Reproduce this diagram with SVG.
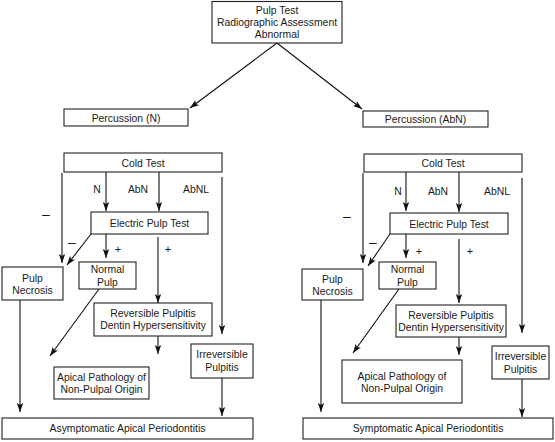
<svg xmlns="http://www.w3.org/2000/svg" width="555" height="442" viewBox="0 0 555 442">
<style>
.box{fill:#fff;stroke:#222;stroke-width:1.1}
.t{font-family:"Liberation Sans",Arial,sans-serif;font-size:10.4px;fill:#1a1a1a;text-anchor:middle}
.s{font-family:"Liberation Sans",Arial,sans-serif;font-size:14px;fill:#1a1a1a;text-anchor:middle}
.p{font-family:"Liberation Sans",Arial,sans-serif;font-size:11px;fill:#1a1a1a;text-anchor:middle}
.c{fill:none;stroke:#111;stroke-width:1.1}
</style>
<defs>
<marker id="ah" markerUnits="userSpaceOnUse" markerWidth="10" markerHeight="8" viewBox="0 0 10 8" refX="9" refY="4" orient="auto">
<path d="M0,0.8 L9,4 L0,7.2 L2,4 Z" fill="#111"/>
</marker>
</defs>
<rect width="555" height="442" fill="#fff"/>
<g id="connectors">
<line class="c" x1="277" y1="43" x2="190" y2="108" marker-end="url(#ah)"/>
<line class="c" x1="277" y1="43" x2="362" y2="109" marker-end="url(#ah)"/>
<line class="c" x1="62" y1="173" x2="62" y2="263" marker-end="url(#ah)"/>
<line class="c" x1="106" y1="172" x2="106" y2="211" marker-end="url(#ah)"/>
<line class="c" x1="159" y1="172" x2="159" y2="211" marker-end="url(#ah)"/>
<line class="c" x1="222" y1="177" x2="222" y2="334" marker-end="url(#ah)"/>
<line class="c" x1="91" y1="234" x2="67" y2="265" marker-end="url(#ah)"/>
<line class="c" x1="106" y1="234" x2="106" y2="258" marker-end="url(#ah)"/>
<line class="c" x1="158" y1="237" x2="158" y2="303" marker-end="url(#ah)"/>
<line class="c" x1="99" y1="289" x2="50" y2="356" marker-end="url(#ah)"/>
<line class="c" x1="158" y1="336" x2="158" y2="354" marker-end="url(#ah)"/>
<line class="c" x1="20" y1="300" x2="20" y2="412" marker-end="url(#ah)"/>
<line class="c" x1="222" y1="378" x2="222" y2="416" marker-end="url(#ah)"/>
<line class="c" x1="363" y1="173" x2="363" y2="263" marker-end="url(#ah)"/>
<line class="c" x1="406" y1="172" x2="406" y2="211" marker-end="url(#ah)"/>
<line class="c" x1="459" y1="172" x2="459" y2="212" marker-end="url(#ah)"/>
<line class="c" x1="522" y1="178" x2="522" y2="333" marker-end="url(#ah)"/>
<line class="c" x1="390" y1="234" x2="368" y2="266" marker-end="url(#ah)"/>
<line class="c" x1="406" y1="234" x2="406" y2="258" marker-end="url(#ah)"/>
<line class="c" x1="459" y1="239" x2="459" y2="303" marker-end="url(#ah)"/>
<line class="c" x1="399" y1="289" x2="353" y2="353" marker-end="url(#ah)"/>
<line class="c" x1="459" y1="337" x2="459" y2="355" marker-end="url(#ah)"/>
<line class="c" x1="321" y1="300" x2="321" y2="412" marker-end="url(#ah)"/>
<line class="c" x1="522" y1="379" x2="522" y2="417" marker-end="url(#ah)"/>
</g>
<g id="edge-labels">
<text class="t" x="97" y="193">N</text>
<text class="t" x="138" y="193">AbN</text>
<text class="t" x="196" y="193">AbNL</text>
<text class="s" x="46" y="219">–</text>
<text class="s" x="72" y="247">–</text>
<text class="p" x="118" y="253">+</text>
<text class="p" x="168" y="253">+</text>
<text class="t" x="398" y="195">N</text>
<text class="t" x="438" y="195">AbN</text>
<text class="t" x="497" y="195">AbNL</text>
<text class="s" x="347" y="221">–</text>
<text class="s" x="373" y="247">–</text>
<text class="p" x="419" y="255">+</text>
<text class="p" x="470" y="255">+</text>
</g>
<g id="top">
<rect class="box" x="212" y="1.5" width="130" height="41.5"/>
<text class="t" x="277" y="14">Pulp Test</text>
<text class="t" x="277" y="26">Radiographic Assessment</text>
<text class="t" x="277" y="38">Abnormal</text>
</g>
<g id="perc-n">
<rect class="box" x="64" y="109" width="124" height="17"/>
<text class="t" x="126" y="121.5">Percussion (N)</text>
</g>
<g id="perc-abn">
<rect class="box" x="363" y="111" width="125" height="16"/>
<text class="t" x="425.5" y="123">Percussion (AbN)</text>
</g>
<g id="cold-l">
<rect class="box" x="64" y="153" width="158" height="19"/>
<text class="t" x="143" y="166.5">Cold Test</text>
</g>
<g id="ept-l">
<rect class="box" x="91" y="212" width="117" height="22"/>
<text class="t" x="149.5" y="227">Electric Pulp Test</text>
</g>
<g id="necrosis-l">
<rect class="box" x="2" y="267" width="61" height="33"/>
<text class="t" x="32.5" y="281.5">Pulp</text>
<text class="t" x="32.5" y="294">Necrosis</text>
</g>
<g id="normal-l">
<rect class="box" x="79" y="262" width="57" height="27"/>
<text class="t" x="107.5" y="273">Normal</text>
<text class="t" x="107.5" y="285.5">Pulp</text>
</g>
<g id="rev-l">
<rect class="box" x="94" y="303" width="118" height="33"/>
<text class="t" x="153" y="317">Reversible Pulpitis</text>
<text class="t" x="153" y="329">Dentin Hypersensitivity</text>
</g>
<g id="irr-l">
<rect class="box" x="191" y="344" width="62" height="34"/>
<text class="t" x="222" y="358">Irreversible</text>
<text class="t" x="222" y="370.5">Pulpitis</text>
</g>
<g id="apical-l">
<rect class="box" x="54" y="367" width="95" height="32"/>
<text class="t" x="101.5" y="381">Apical Pathology of</text>
<text class="t" x="101.5" y="393">Non-Pulpal Origin</text>
</g>
<g id="asym">
<rect class="box" x="2" y="418" width="251" height="21"/>
<text class="t" x="127.5" y="432">Asymptomatic Apical Periodontitis</text>
</g>
<g id="cold-r">
<rect class="box" x="364" y="154" width="158" height="18"/>
<text class="t" x="443" y="167">Cold Test</text>
</g>
<g id="ept-r">
<rect class="box" x="390" y="213" width="118" height="21"/>
<text class="t" x="449" y="227.5">Electric Pulp Test</text>
</g>
<g id="necrosis-r">
<rect class="box" x="302" y="269" width="61" height="31"/>
<text class="t" x="332.5" y="282.5">Pulp</text>
<text class="t" x="332.5" y="294.5">Necrosis</text>
</g>
<g id="normal-r">
<rect class="box" x="379" y="262" width="57" height="27"/>
<text class="t" x="407.5" y="273">Normal</text>
<text class="t" x="407.5" y="285.5">Pulp</text>
</g>
<g id="rev-r">
<rect class="box" x="396" y="305" width="110" height="32"/>
<text class="t" x="451" y="318.5">Reversible Pulpitis</text>
<text class="t" x="451" y="330.5">Dentin Hypersensitivity</text>
</g>
<g id="irr-r">
<rect class="box" x="492" y="346" width="57" height="33"/>
<text class="t" x="520.5" y="360">Irreversible</text>
<text class="t" x="520.5" y="372.5">Pulpitis</text>
</g>
<g id="apical-r">
<rect class="box" x="342" y="360" width="120" height="43"/>
<text class="t" x="402" y="380">Apical Pathology of</text>
<text class="t" x="402" y="392">Non-Pulpal Origin</text>
</g>
<g id="sym">
<rect class="box" x="303" y="418" width="250" height="21"/>
<text class="t" x="428" y="432">Symptomatic Apical Periodontitis</text>
</g>
</svg>
